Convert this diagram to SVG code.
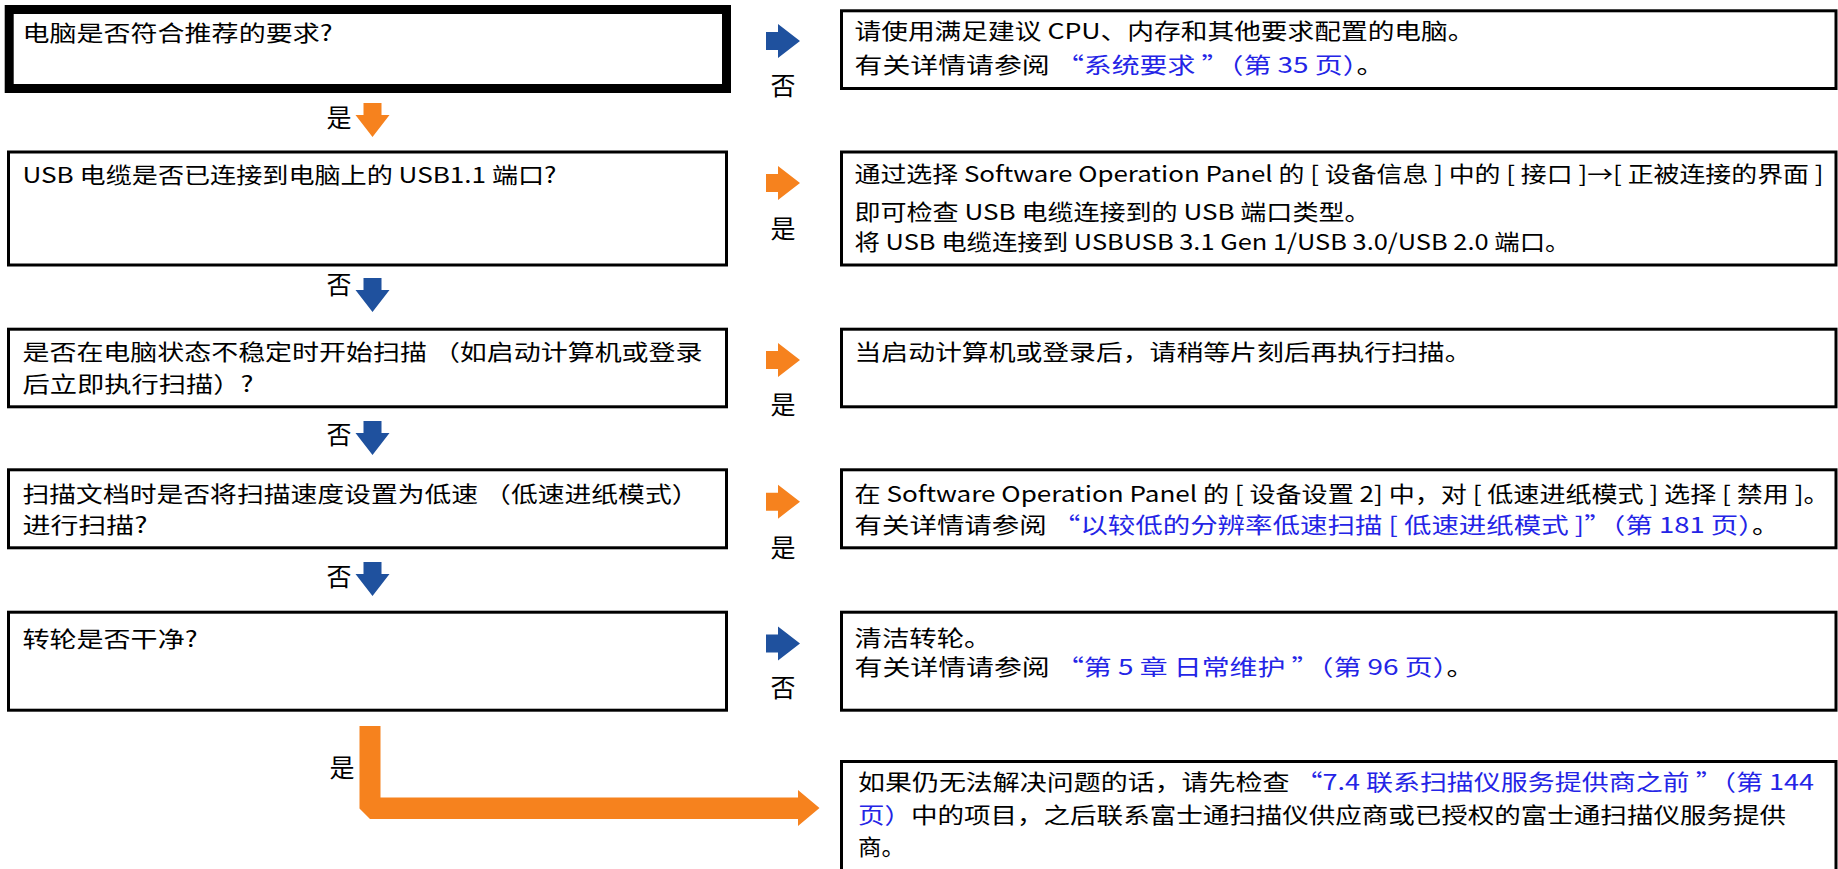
<svg xmlns="http://www.w3.org/2000/svg" xmlns:xlink="http://www.w3.org/1999/xlink" width="1838" height="869" viewBox="0 0 1838 869">
<style>
.box{fill:#fff;stroke:#000;stroke-width:3}
.thick{fill:#fff;stroke:#000;stroke-width:9}
.t{font-family:"Noto Sans CJK SC","Noto Sans",sans-serif;font-size:22px;fill:#000}
.lb{font-family:"Noto Sans CJK SC","Noto Sans",sans-serif;font-size:25px;fill:#000}
.lk{fill:#2424E6}
.or{fill:#F6821E}
.bl{fill:#1F519E}
</style>
<defs>
<path id="arR" d="M0,-9 H12 V-17 L34,0 L12,17 V9 H0 Z"/>
<path id="arD" d="M-9,0 V12 H-17 L0,34 L17,12 H9 V0 Z"/>
</defs>
<rect width="1838" height="869" fill="#fff"/>

<g id="q1">
<rect class="thick" x="9.2" y="9.5" width="717.3" height="79"/>
<text class="t" x="22.5" y="41" textLength="310" lengthAdjust="spacingAndGlyphs">电脑是否符合推荐的要求?</text>
</g>
<g id="a1">
<rect class="box" x="841.5" y="10.8" width="994.5" height="77.7"/>
<text class="t" x="854.5" y="39" textLength="620" lengthAdjust="spacingAndGlyphs">请使用满足建议 CPU、内存和其他要求配置的电脑。</text>
<text class="t" x="854.5" y="73" textLength="530" lengthAdjust="spacingAndGlyphs">有关详情请参阅 <tspan class="lk">“系统要求 ”（第 35 页）</tspan>。</text>
</g>

<g id="q2">
<rect class="box" x="8.5" y="152" width="718" height="113"/>
<text class="t" x="22.5" y="183" textLength="534" lengthAdjust="spacingAndGlyphs">USB 电缆是否已连接到电脑上的 USB1.1 端口?</text>
</g>
<g id="a2">
<rect class="box" x="841.5" y="152" width="994.5" height="113"/>
<text class="t" x="854.5" y="182" textLength="969" lengthAdjust="spacingAndGlyphs">通过选择 Software Operation Panel 的 [ 设备信息 ] 中的 [ 接口 ]→[ 正被连接的界面 ]</text>
<text class="t" x="854.5" y="220" textLength="516" lengthAdjust="spacingAndGlyphs">即可检查 USB 电缆连接到的 USB 端口类型。</text>
<text class="t" x="854.5" y="250" textLength="716" lengthAdjust="spacingAndGlyphs">将 USB 电缆连接到 USBUSB 3.1 Gen 1/USB 3.0/USB 2.0 端口。</text>
</g>

<g id="q3">
<rect class="box" x="8.5" y="329.2" width="718" height="77.6"/>
<text class="t" x="22.5" y="360" textLength="680" lengthAdjust="spacingAndGlyphs">是否在电脑状态不稳定时开始扫描 （如启动计算机或登录</text>
<text class="t" x="22.5" y="392" textLength="231" lengthAdjust="spacingAndGlyphs">后立即执行扫描）?</text>
</g>
<g id="a3">
<rect class="box" x="841.5" y="329.2" width="994.5" height="77.6"/>
<text class="t" x="854.5" y="360" textLength="617" lengthAdjust="spacingAndGlyphs">当启动计算机或登录后，请稍等片刻后再执行扫描。</text>
</g>

<g id="q4">
<rect class="box" x="8.5" y="469.8" width="718" height="78"/>
<text class="t" x="22.5" y="502" textLength="676" lengthAdjust="spacingAndGlyphs">扫描文档时是否将扫描速度设置为低速 （低速进纸模式）</text>
<text class="t" x="22.5" y="533" textLength="125" lengthAdjust="spacingAndGlyphs">进行扫描?</text>
</g>
<g id="a4">
<rect class="box" x="841.5" y="469.8" width="994.5" height="78"/>
<text class="t" x="854.5" y="502" textLength="975" lengthAdjust="spacingAndGlyphs">在 Software Operation Panel 的 [ 设备设置 2] 中，对 [ 低速进纸模式 ] 选择 [ 禁用 ]。</text>
<text class="t" x="854.5" y="533" textLength="925" lengthAdjust="spacingAndGlyphs">有关详情请参阅 <tspan class="lk">“以较低的分辨率低速扫描 [ 低速进纸模式 ]”（第 181 页）</tspan>。</text>
</g>

<g id="q5">
<rect class="box" x="8.5" y="612.2" width="718" height="98"/>
<text class="t" x="22.5" y="647" textLength="175" lengthAdjust="spacingAndGlyphs">转轮是否干净?</text>
</g>
<g id="a5">
<rect class="box" x="841.5" y="612.2" width="994.5" height="98"/>
<text class="t" x="854.5" y="646" textLength="137" lengthAdjust="spacingAndGlyphs">清洁转轮。</text>
<text class="t" x="854.5" y="675" textLength="620" lengthAdjust="spacingAndGlyphs">有关详情请参阅 <tspan class="lk">“第 5 章 日常维护 ”（第 96 页）</tspan>。</text>
</g>

<g id="a6">
<rect class="box" x="841.5" y="761.5" width="994.5" height="130"/>
<text class="t" x="858" y="790" textLength="956" lengthAdjust="spacingAndGlyphs">如果仍无法解决问题的话，请先检查 <tspan class="lk">“7.4 联系扫描仪服务提供商之前 ”（第 144</tspan></text>
<text class="t" x="858" y="823" textLength="928" lengthAdjust="spacingAndGlyphs"><tspan class="lk">页）</tspan>中的项目，之后联系富士通扫描仪供应商或已授权的富士通扫描仪服务提供</text>
<text class="t" x="858" y="855" textLength="47" lengthAdjust="spacingAndGlyphs">商。</text>
</g>

<g id="connectors">
<use xlink:href="#arR" x="766" y="41" class="bl"/>
<text class="lb" x="783" y="95" text-anchor="middle">否</text>
<use xlink:href="#arR" x="766" y="183" class="or"/>
<text class="lb" x="783" y="238" text-anchor="middle">是</text>
<use xlink:href="#arR" x="766" y="360" class="or"/>
<text class="lb" x="783" y="414" text-anchor="middle">是</text>
<use xlink:href="#arR" x="766" y="501.7" class="or"/>
<text class="lb" x="783" y="557" text-anchor="middle">是</text>
<use xlink:href="#arR" x="766" y="643.4" class="bl"/>
<text class="lb" x="783" y="697" text-anchor="middle">否</text>

<use xlink:href="#arD" x="372.5" y="103" class="or"/>
<text class="lb" x="339" y="127" text-anchor="middle">是</text>
<use xlink:href="#arD" x="372.5" y="278" class="bl"/>
<text class="lb" x="339" y="294" text-anchor="middle">否</text>
<use xlink:href="#arD" x="372.5" y="421" class="bl"/>
<text class="lb" x="339" y="444" text-anchor="middle">否</text>
<use xlink:href="#arD" x="372.5" y="562" class="bl"/>
<text class="lb" x="339" y="586" text-anchor="middle">否</text>

<polygon class="or" points="359.5,726 380.5,726 380.5,797.5 798,797.5 798,790 819.5,808 798,826 798,819 370,819 359.5,808.5"/>
<text class="lb" x="342" y="777" text-anchor="middle">是</text>
</g>
</svg>
